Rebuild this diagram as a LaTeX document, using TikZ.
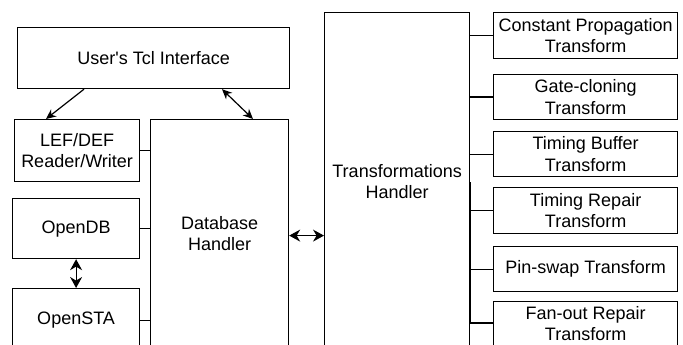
\documentclass[tikz,border=0pt]{standalone}
\usepackage{fontspec}
\setmainfont{Liberation Sans}
\usetikzlibrary{arrows.meta,positioning,calc}
\tikzset{
  blk/.style={draw, line width=1.2pt, align=center, inner sep=0pt,
              font=\fontsize{18}{21.6}\selectfont},
  xform/.style={blk, anchor=north west, minimum width=184pt, minimum height=46pt},
  link/.style={line width=1.2pt},
  one/.style={-{Stealth[length=10pt,width=9pt]}, line width=1.2pt},
  both/.style={{Stealth[length=10pt,width=9pt]}-{Stealth[length=10pt,width=9pt]}, line width=1.2pt},
  fat/.style={{Stealth[length=11pt,width=12pt]}-{Stealth[length=11pt,width=12pt]}, line width=1.2pt},
}

\begin{document}
\begin{tikzpicture}[x=1pt, y=-1pt, node distance=12pt]
  \path[use as bounding box, clip] (0,0) rectangle (683,345);

  % left column
  \node[blk, anchor=north west, minimum width=272pt, minimum height=61pt] (tcl) at (17,27) {User\textquotesingle s Tcl Interface};
  \node[blk, anchor=north west, minimum width=125pt, minimum height=62pt] (lef) at (14,119) {LEF/DEF\\Reader/Writer};
  \node[blk, anchor=north west, minimum width=127pt, minimum height=60pt] (odb) at (12,198) {OpenDB};
  \node[blk, anchor=north west, minimum width=127pt, minimum height=63pt] (sta) at (12,288) {OpenSTA};
  \node[blk, anchor=north west, minimum width=138pt, minimum height=228pt] (dbh) at (150,119) {Database\\Handler};

  % handler and its transforms
  \node[blk, anchor=north west, minimum width=145pt, minimum height=338pt] (trh) at (324,12) {Transformations\\Handler};
  \node[xform] (cp) at (493,12) {Constant Propagation\\Transform};
  \node[xform, minimum height=45pt] (gc) at (493,74) {Gate-cloning\\Transform};
  \node[xform, minimum height=45pt] (tb) at (493,131) {Timing Buffer\\Transform};
  \node[xform] (tr) at (493,187) {Timing Repair\\Transform};
  \node[xform, minimum height=45pt] (ps) at (493,246) {Pin-swap Transform};
  \node[xform, minimum height=54pt, text depth=10pt] (fo) at (493,301) {Fan-out Repair\\Transform};

  \foreach \t in {cp,gc,tb,tr,ps}
    \draw[link] (\t.west -| trh.east) -- (\t.west);
  \draw[link] ($(fo.north west)+(0,22)$) -| (trh.east);

  \draw[link] (lef.east) -- (lef.east -| dbh.west);
  \draw[link] (odb.east) -- (odb.east -| dbh.west);
  \draw[link] (sta.east) -- (sta.east -| dbh.west);

  \draw[one] ($(tcl.south west)+(67,0)$) -- ($(lef.north west)+(32,0)$);
  \draw[both] ($(tcl.south west)+(205,0)$) -- ($(dbh.north west)+(103,0)$);
  \draw[fat] (odb.south) -- (sta.north);
  \draw[fat] ($(dbh.east)+(0,2)$) -- ($(dbh.east -| trh.west)+(0,2)$);
\end{tikzpicture}
\end{document}
